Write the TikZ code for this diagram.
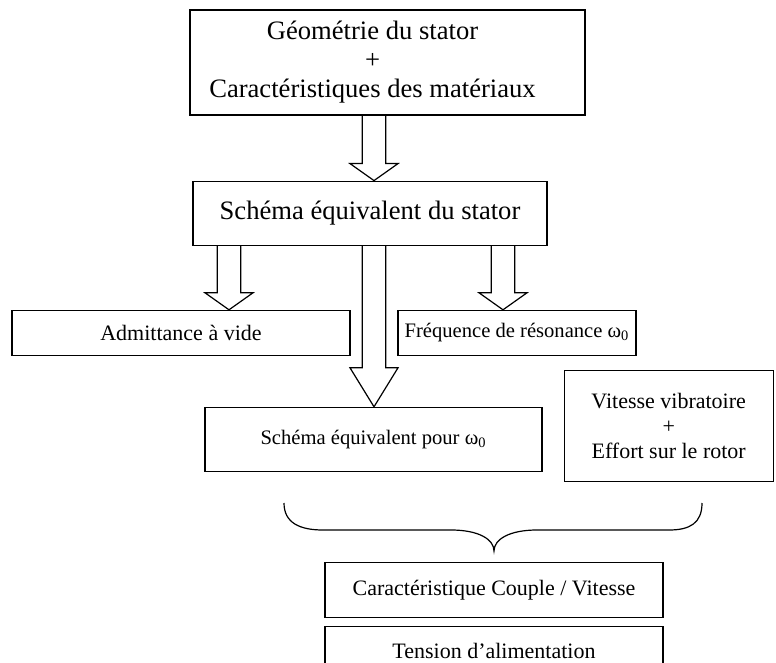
\documentclass[tikz,border=0pt]{standalone}
\usepackage{fontspec}
\setmainfont{Liberation Serif}
\usetikzlibrary{positioning,calc}

\begin{document}
\begin{tikzpicture}[line width=0.6pt,
  every node/.style={align=center,inner sep=0pt},
  bigbox/.style={draw,font=\fontsize{13.3pt}{14.5pt}\selectfont},
  box/.style={draw,font=\fontsize{11pt}{12.5pt}\selectfont},
  omegabox/.style={draw,font=\fontsize{10.3pt}{12pt}\selectfont},
  blockarr/.style={to path={let \p1=(\tikztostart),\p2=(\tikztotarget) in
    (\x1-5.9pt,\y1) -- (\x1-5.9pt,\y2+#1) -- (\x1-12pt,\y2+#1) -- (\x1,\y2)
    -- (\x1+12pt,\y2+#1) -- (\x1+5.9pt,\y2+#1) -- (\x1+5.9pt,\y1)}}]
\useasboundingbox (0,0) rectangle (388pt,-331.5pt);
\node[bigbox,minimum width=197.5pt,minimum height=52.5pt,
  label={[font=\fontsize{13.3pt}{14.5pt}\selectfont,xshift=-7.5pt]center:Géométrie du stator\\+\\Caractéristiques des matériaux}]
  (geo) at (193.75pt,-31.25pt) {};
\node[bigbox,minimum width=177pt,minimum height=32pt,below=32.5pt of geo,xshift=-8.75pt] (schema)
  {Schéma équivalent du stator};
\node[box,minimum width=169pt,minimum height=22.5pt,below=32pt of schema,xshift=-94.5pt] (admit)
  {Admittance à vide};
\node[omegabox,minimum width=119pt,minimum height=22.5pt,below=32pt of schema,xshift=73.5pt] (freq)
  {Fréquence de résonance ω\textsubscript{0}};
\node[omegabox,minimum width=168.5pt,minimum height=32pt,below=80.5pt of schema,xshift=1.75pt] (pour)
  {Schéma équivalent pour ω\textsubscript{0}};
\node[box,minimum width=104.5pt,minimum height=55.5pt,right=10.5pt of pour,yshift=6.75pt] (vitesse)
  {Vitesse vibratoire\\+\\Effort sur le rotor};
\node[box,minimum width=169pt,minimum height=27.5pt,below=45pt of pour,xshift=60.25pt] (couple)
  {Caractéristique Couple / Vitesse};
\node[box,minimum width=169pt,minimum height=24pt,below=4pt of couple] (tension)
  {Tension d’alimentation};
% block arrows
\path (geo.south) ++(-6.75pt,0) coordinate (a0);
\draw[blockarr=8.5pt] (a0) to (a0 |- schema.north);
\path (schema.south) ++(-70.5pt,0) coordinate (a1);
\draw[blockarr=8.5pt] (a1) to (a1 |- admit.north);
\path (schema.south) ++(2pt,0) coordinate (a2);
\draw[blockarr=19.5pt] (a2) to (a2 |- pour.north);
\path (schema.south) ++(66.5pt,0) coordinate (a3);
\draw[blockarr=8.5pt] (a3) to (a3 |- freq.north);
% brace
\coordinate (tip) at ($(couple.north)+(0,5.5pt)$);
\draw[shift={(tip)}] (-105pt,24pt) .. controls (-105pt,14pt) and (-97pt,10.5pt) .. (-85.5pt,10.5pt)
  -- (-21.5pt,10.5pt) .. controls (-8pt,10.5pt) and (0,6pt) .. (0,0)
  .. controls (0,6pt) and (8pt,10.5pt) .. (21.5pt,10.5pt) -- (87.5pt,10.5pt)
  .. controls (98pt,10.5pt) and (104pt,14pt) .. (104pt,24pt);
\end{tikzpicture}
\end{document}
